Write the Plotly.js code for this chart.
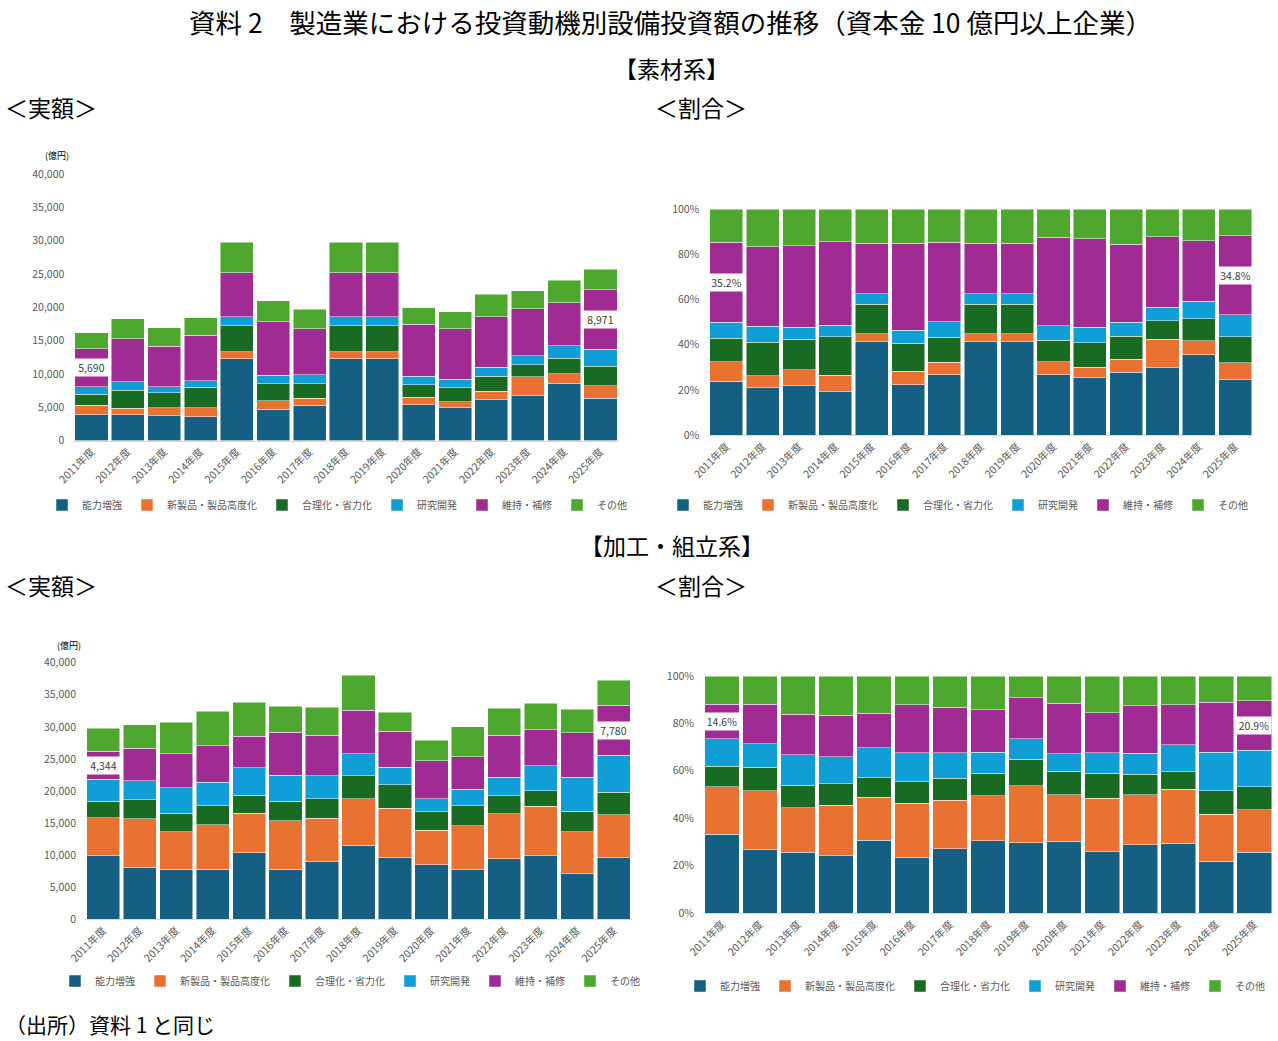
<!DOCTYPE html>
<html>
<head>
<meta charset="utf-8">
<script src="https://cdn.plot.ly/plotly-3.0.1.min.js"></script>
<style>
  html, body { margin: 0; padding: 0; background: #fff; }
  .page { position: absolute; left: 0; top: 0; width: 1278px; height: 1041px; }
</style>
</head>
<body>
<div id="amount" class="page"></div>
<div id="share" class="page"></div>
<script>
const years = ["2011年度", "2012年度", "2013年度", "2014年度", "2015年度", "2016年度", "2017年度",
  "2018年度", "2019年度", "2020年度", "2021年度", "2022年度", "2023年度", "2024年度", "2025年度"];
const seriesNames = ["能力増強", "新製品・製品高度化", "合理化・省力化", "研究開発", "維持・補修", "その他"];
const colors = ["#156082", "#E97132", "#196B24", "#0F9ED5", "#A02B93", "#4EA72E"];

// 素材系 (億円)
const matCapacity = [3860, 3860, 3710, 3560, 12280, 4710, 5260, 12280, 12280, 5360, 4910, 6120, 6720, 8570, 6320];
const matNewProduct = [1400, 950, 1200, 1350, 1050, 1250, 1100, 1050, 1050, 1110, 900, 1250, 2850, 1460, 1900];
const matRational = [1660, 2710, 2260, 3110, 3910, 2560, 2150, 3910, 3910, 1900, 2110, 2250, 1810, 2350, 2960];
const matResearch = [1150, 1300, 900, 950, 1360, 1250, 1350, 1360, 1360, 1300, 1300, 1360, 1350, 1860, 2500];
const matMaintain = [5690, 6420, 6070, 6820, 6610, 8070, 6920, 6610, 6610, 7770, 7570, 7570, 7020, 6460, 8971];
const matOther = [2380, 3060, 2750, 2660, 4510, 3160, 2910, 4510, 4510, 2510, 2560, 3400, 2760, 3360, 3060];

// 加工・組立系 (億円)
const asmCapacity = [9870, 8100, 7840, 7840, 10390, 7840, 8990, 11580, 9560, 8470, 7740, 9450, 9920, 7120, 9560];
const asmNewProduct = [5970, 7540, 5820, 6910, 6180, 7540, 6750, 7230, 7790, 5450, 6810, 6970, 7690, 6540, 6700];
const asmRational = [2600, 2960, 2910, 2960, 2750, 3060, 3070, 3580, 3590, 2810, 3160, 2850, 2440, 3220, 3580];
const asmResearch = [3430, 3010, 3900, 3690, 4320, 4050, 3580, 3430, 2800, 2080, 2600, 2910, 3850, 5300, 5770];
const asmMaintain = [4344, 5090, 5300, 5660, 4930, 6700, 6340, 6800, 5560, 5920, 5040, 6550, 5660, 6910, 7780];
const asmOther = [3560, 3590, 4930, 5410, 5300, 4060, 4360, 5410, 2960, 3220, 4680, 4150, 4100, 3640, 3910];

// labelled points (維持・補修, first and last year)
const labelIdx = [0, 14];
const matShareLabels = ["35.2%", "34.8%"];
const asmShareLabels = ["14.6%", "20.9%"];

const matSeries = [matCapacity, matNewProduct, matRational, matResearch, matMaintain, matOther];
const asmSeries = [asmCapacity, asmNewProduct, asmRational, asmResearch, asmMaintain, asmOther];

const W = 1278, H = 1041;
const fx = (p) => p / W;
const fy = (p) => 1 - p / H;
const JP = "Noto Sans CJK JP";
const gray = "#595959";

function barTraces(series, xa, ya, legendId) {
  return series.map((vals, i) => ({
    type: "bar",
    x: years,
    y: vals,
    name: seriesNames[i],
    xaxis: xa,
    yaxis: ya,
    legend: legendId,
    marker: { color: colors[i], line: { color: "rgba(255,255,255,0.6)", width: 0.8 } },
  }));
}

function xAxis(d0, d1, anchor) {
  return {
    domain: [fx(d0), fx(d1)],
    anchor: anchor,
    type: "category",
    showgrid: false,
    zeroline: false,
    showline: true,
    linecolor: "#d9d9d9",
    linewidth: 1,
    ticks: "",
    tickangle: -45,
    tickfont: { family: JP, size: 10.5, color: gray },
  };
}

function yAxis(top, bottom, anchor, extra) {
  return Object.assign({
    domain: [fy(bottom), fy(top)],
    anchor: anchor,
    showgrid: false,
    zeroline: false,
    showline: false,
    ticks: "",
    ticklabelstandoff: 8,
    tickfont: { family: JP, size: 10.5, color: gray },
  }, extra);
}

function legendAt(cx, cy) {
  return {
    orientation: "h",
    x: fx(cx), xanchor: "center",
    y: fy(cy), yanchor: "middle",
    traceorder: "normal",
    font: { family: JP, size: 10, color: gray },
    bgcolor: "rgba(0,0,0,0)",
  };
}

// midpoint of 維持・補修 segment for a column (optionally as percent of the column)
function midOf(series, i, asShare) {
  let below = 0;
  for (let s = 0; s < 4; s++) below += series[s][i];
  const mid = below + series[4][i] / 2;
  if (!asShare) return mid;
  const total = series.reduce((a, s) => a + s[i], 0);
  return mid / total * 100;
}

function valueLabel(text, xa, ya, i, y, w) {
  return {
    xref: xa, yref: ya, x: i, y: y, text: text, showarrow: false,
    bgcolor: "#ffffff", width: w, height: 17, borderpad: 0,
    font: { family: JP, size: 10.5, color: "#404040" },
  };
}

function heading(text, x, y, anchor, size) {
  return {
    xref: "paper", yref: "paper", x: fx(x), y: fy(y), xanchor: anchor, yanchor: "middle",
    text: text, showarrow: false, font: { family: JP, size: size, color: "#000" },
  };
}

const fmt = (v) => v.toLocaleString("en-US");

// ---------- 実額 ----------
const amountData = barTraces(matSeries, "x", "y", "legend")
  .concat(barTraces(asmSeries, "x2", "y2", "legend2"));

const amountAnn = [
  heading("資料 2　製造業における投資動機別設備投資額の推移（資本金 10 億円以上企業）", 670, 22, "center", 26.5),
  heading("【素材系】", 671, 68, "center", 23),
  heading("＜実額＞", 3, 107, "left", 23),
  heading("＜割合＞", 653, 107, "left", 23),
  heading("【加工・組立系】", 672, 545, "center", 23),
  heading("＜実額＞", 3, 585, "left", 23),
  heading("＜割合＞", 653, 585, "left", 23),
  heading("（出所）資料 1 と同じ", 3, 1024, "left", 21),
  heading("(億円)", 43, 155, "left", 9),
  heading("(億円)", 55, 645, "left", 9),
];
labelIdx.forEach((i) => {
  amountAnn.push(valueLabel(fmt(matMaintain[i]), "x", "y", i, midOf(matSeries, i, false), 33));
  amountAnn.push(valueLabel(fmt(asmMaintain[i]), "x2", "y2", i, midOf(asmSeries, i, false), 33));
});

const amountLayout = {
  width: W, height: H,
  margin: { l: 0, r: 0, t: 0, b: 0 },
  paper_bgcolor: "rgba(0,0,0,0)",
  plot_bgcolor: "rgba(0,0,0,0)",
  barmode: "stack",
  bargap: 0.09,
  showlegend: true,
  font: { family: JP, color: gray },
  xaxis: xAxis(73.3, 618.7, "y"),
  yaxis: yAxis(174, 440.5, "x", { range: [0, 40000], dtick: 5000, tickformat: ",.0f" }),
  xaxis2: xAxis(85, 632, "y2"),
  yaxis2: yAxis(662.7, 919.3, "x2", { range: [0, 40000], dtick: 5000, tickformat: ",.0f" }),
  legend: legendAt(337, 505),
  legend2: legendAt(350, 981),
  annotations: amountAnn,
};

// ---------- 割合 ----------
const shareData = barTraces(matSeries, "x", "y", "legend")
  .concat(barTraces(asmSeries, "x2", "y2", "legend2"));

const shareAnn = [];
labelIdx.forEach((i, k) => {
  shareAnn.push(valueLabel(matShareLabels[k], "x", "y", i, midOf(matSeries, i, true), 33));
  shareAnn.push(valueLabel(asmShareLabels[k], "x2", "y2", i, midOf(asmSeries, i, true), 34));
});

const shareLayout = {
  width: W, height: H,
  margin: { l: 0, r: 0, t: 0, b: 0 },
  paper_bgcolor: "rgba(0,0,0,0)",
  plot_bgcolor: "rgba(0,0,0,0)",
  barmode: "stack",
  barnorm: "percent",
  bargap: 0.09,
  showlegend: true,
  font: { family: JP, color: gray },
  xaxis: xAxis(708.3, 1253.3, "y"),
  yaxis: yAxis(209, 435.3, "x", { range: [0, 100], dtick: 20, ticksuffix: "%" }),
  xaxis2: xAxis(703, 1273.3, "y2"),
  yaxis2: yAxis(676, 913, "x2", { range: [0, 100], dtick: 20, ticksuffix: "%" }),
  legend: legendAt(958, 505),
  legend2: legendAt(975, 986),
  annotations: shareAnn,
};

const config = { displayModeBar: false, responsive: false };

Plotly.newPlot("amount", amountData, amountLayout, config);
Plotly.newPlot("share", shareData, shareLayout, config);
</script>
</body>
</html>
